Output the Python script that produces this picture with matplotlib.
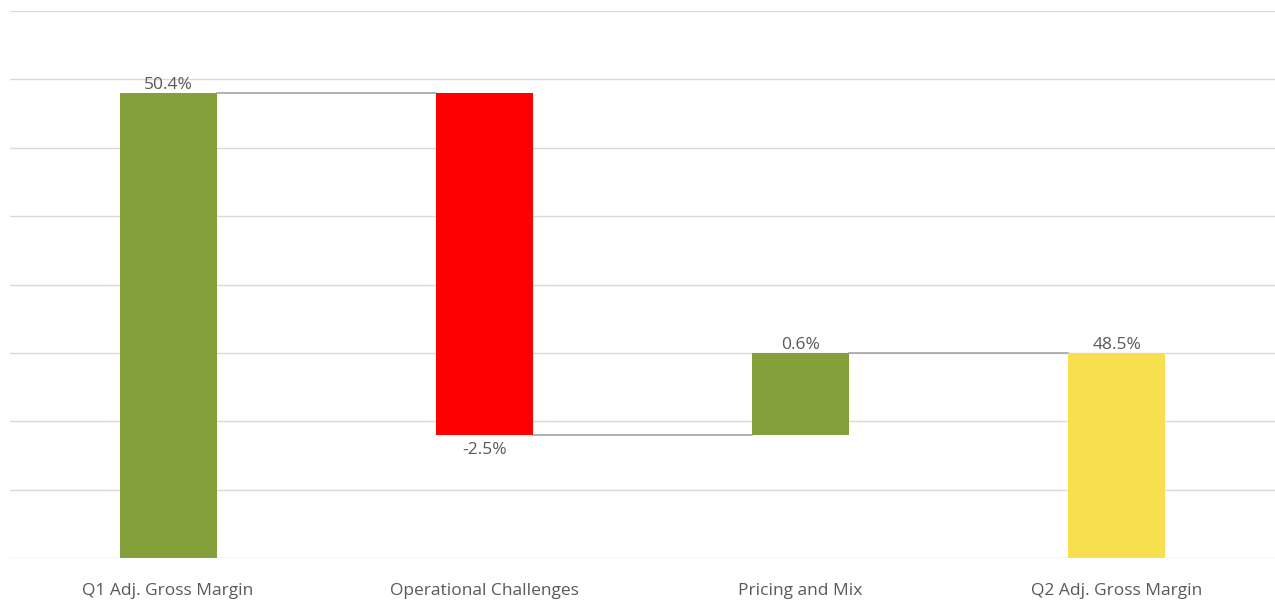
import matplotlib
matplotlib.use("Agg")
import matplotlib.pyplot as plt
import numpy as np

categories = ["Q1 Adj. Gross Margin", "Operational Challenges", "Pricing and Mix", "Q2 Adj. Gross Margin"]
values = [50.4, -2.5, 0.6, 48.5]
is_total = [True, False, False, True]
labels = ["50.4%", "-2.5%", "0.6%", "48.5%"]
colors = ["#83A03A", "#FF0000", "#83A03A", "#F7DF4D"]

plt.rcParams['font.family'] = ['Open Sans', 'DejaVu Sans']

fig = plt.figure(figsize=(12.75, 6.01), dpi=100)
ax = fig.add_axes([10/1275, 43/601, 1265/1275, 547/601])
ymin, ymax = 47.0, 51.0
ax.set_ylim(ymin, ymax)
ax.set_xlim(-0.5, len(categories) - 0.5)

x = np.arange(len(categories))
width = 0.307
bottoms, tops = [], []
running = 0.0
for v, tot in zip(values, is_total):
    if tot:
        b, t = ymin, v
        running = v
    else:
        b, t = running, running + v
        running = t
    bottoms.append(min(b, t))
    tops.append(max(b, t))

heights = [t - b for b, t in zip(bottoms, tops)]
ax.bar(x, heights, bottom=bottoms, width=width, color=colors, zorder=3)

# connectors
level = values[0]
for i in range(len(categories) - 1):
    if is_total[i]:
        level = values[i]
    else:
        level = level + values[i]
    ax.plot([x[i] + width / 2, x[i + 1] - width / 2], [level, level],
            color="#A6A6A6", lw=1.2, zorder=2)

for i, (v, lab) in enumerate(zip(values, labels)):
    if v < 0 and not is_total[i]:
        ax.text(x[i], bottoms[i] - 0.05, lab, ha="center", va="top",
                fontsize=12.5, color="#595959")
    else:
        ax.text(x[i], tops[i] + 0.0, lab, ha="center", va="bottom",
                fontsize=12.5, color="#595959")

ax.set_yticks(np.arange(47.0, 51.01, 0.5))
ax.yaxis.grid(True, color="#D9D9D9", lw=1)
ax.tick_params(axis="y", left=False, labelleft=False)
ax.set_xticks(x)
ax.set_xticklabels(categories, fontsize=12.5, color="#595959")
ax.tick_params(axis="x", length=0, pad=18)
for s in ax.spines.values():
    s.set_visible(False)
ax.set_axisbelow(True)

fig.savefig("out.png", dpi=100)
